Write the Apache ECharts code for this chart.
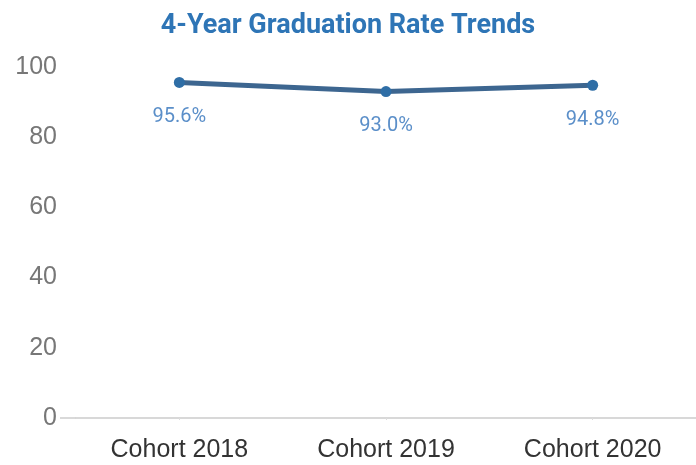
<!DOCTYPE html>
<html><head><meta charset="utf-8">
<script src="https://cdn.jsdelivr.net/npm/echarts@6/dist/echarts.min.js"></script>
<style>html,body{margin:0;padding:0;background:#fff}#c{width:696px;height:465px}</style>
</head><body><div id="c"></div>
<script>
const categories = ["Cohort 2018", "Cohort 2019", "Cohort 2020"];
const rates = [95.6, 93.0, 94.8];
const yTicks = [0, 20, 40, 60, 80, 100];

const chart = echarts.init(document.getElementById('c'));
chart.setOption({
  animation: false,
  title: {
    text: '4-Year Graduation Rate Trends',
    left: 'center', top: 8,
    textStyle: {fontFamily: 'Roboto', fontWeight: 'bold', fontSize: 27, color: '#2e75b6'}
  },
  grid: {left: 76, right: 0, top: 67, bottom: 47},
  xAxis: {
    type: 'category', data: categories, boundaryGap: true,
    axisLine: {lineStyle: {color: '#cccccc', width: 1.5}},
    axisTick: {show: true, alignWithLabel: true, length: 2, lineStyle: {color: '#dddddd'}},
    axisLabel: {fontFamily: 'Liberation Sans', fontSize: 25, color: '#333333', margin: 20}
  },
  yAxis: {
    type: 'value', min: yTicks[0], max: yTicks[yTicks.length - 1], interval: 20,
    splitLine: {show: false}, axisLine: {show: false}, axisTick: {show: false},
    axisLabel: {fontFamily: 'Liberation Sans', fontSize: 25, color: '#777777', margin: 19}
  },
  series: [{
    type: 'line', data: rates,
    lineStyle: {color: '#3d6690', width: 5},
    itemStyle: {color: '#2f6ea6'},
    symbol: 'circle', symbolSize: 11,
    label: {
      show: true, position: 'bottom', distance: 19,
      formatter: p => p.value.toFixed(1) + '%',
      fontFamily: 'Roboto', fontSize: 20, color: '#5b8fc9'
    }
  }]
});
const y0 = chart.convertToPixel({yAxisIndex: 0}, 0);
chart.setOption({graphic: [{type: 'line', shape: {x1: 60, y1: y0, x2: 76, y2: y0}, style: {stroke: '#cccccc', lineWidth: 1.5}}]});
</script></body></html>
